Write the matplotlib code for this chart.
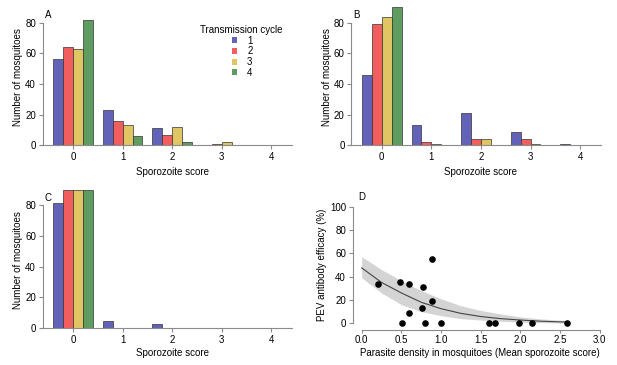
import matplotlib
matplotlib.use('Agg')
import matplotlib.pyplot as plt
from matplotlib.patches import Patch
import numpy as np

plt.rcParams['font.family'] = ['Liberation Sans', 'DejaVu Sans']
font_size = 7
axis_color = '#8a8a8a'

W, H = 617, 365

scores = [0, 1, 2, 3, 4]
cycles = ['1', '2', '3', '4']
cycle_colors = ['#6262b8', '#f25e5e', '#dfc662', '#5f9c5f']

# panel A: mosquitoes per sporozoite score, one list per transmission cycle
counts_a = [
    [56, 23, 11, 0, 0],
    [64, 16, 7, 1, 0],
    [63, 13, 12, 2, 0],
    [82, 6, 2, 0, 0],
]
# panel B
counts_b = [
    [46, 13, 21, 9, 1],
    [79, 2, 4, 4, 0],
    [84, 1, 4, 1, 0],
    [90, 0, 0, 0, 0],
]
# panel C
counts_c = [
    [81, 5, 3, 0, 0],
    [90, 0, 0, 0, 0],
    [90, 0, 0, 0, 0],
    [90, 0, 0, 0, 0],
]

# panel D: observed points
density = [0.20, 0.48, 0.51, 0.60, 0.60, 0.76, 0.77, 0.80, 0.88, 0.88,
           1.00, 1.60, 1.68, 1.98, 2.15, 2.58]
efficacy = [34, 35, 0, 34, 9, 13, 31, 0, 55, 19,
            0, 0, 0, 0, 0, 0]
# panel D: fitted curve and confidence band
fit_x = [0.0, 0.25, 0.5, 0.75, 1.0, 1.25, 1.5, 1.75, 2.0, 2.25, 2.6]
fit_y = [47.5, 35, 26, 18, 12.5, 8.5, 5.8, 4.0, 2.8, 1.8, 1.0]
fit_hi = [57, 46, 36.5, 28, 21, 15, 11, 8, 5.5, 3.8, 2.2]
fit_lo = [39, 26, 16, 10, 6.5, 4.0, 2.8, 1.8, 1.0, 0.5, 0.2]


def px_axes(fig, left, right, top, bottom):
    return fig.add_axes([left / W, 1 - bottom / H, (right - left) / W, (bottom - top) / H])


def style_axes(ax):
    for s in ['top', 'right']:
        ax.spines[s].set_visible(False)
    for s in ['left', 'bottom']:
        ax.spines[s].set_color(axis_color)
        ax.spines[s].set_linewidth(0.8)
    ax.tick_params(length=3, width=0.8, color=axis_color, labelsize=font_size, pad=2)


def bar_panel(ax, counts):
    x = np.arange(len(scores))
    for k, vals in enumerate(counts):
        ax.bar(x + (k - 1.5) * 0.2, vals, width=0.2, color=cycle_colors[k],
               edgecolor='#333333', linewidth=0.5, align='center')
    ax.set_xlim(-0.67, 4.42)
    ax.set_ylim(0, 92)
    style_axes(ax)
    ax.spines['left'].set_position(('data', -0.61))
    ax.spines['left'].set_bounds(0, 80)
    ax.set_yticks([0, 20, 40, 60, 80])
    ax.set_xticks(x)
    ax.set_xticklabels([str(s) for s in scores])


fig = plt.figure(figsize=(W / 100, H / 100), dpi=100)

ax_a = px_axes(fig, 40, 292, 4.3, 145.3)
bar_panel(ax_a, counts_a)
ax_b = px_axes(fig, 348.5, 601, 4.3, 145.3)
bar_panel(ax_b, counts_b)
ax_c = px_axes(fig, 40, 292, 186.5, 328.3)
bar_panel(ax_c, counts_c)

# legend in panel A
handles = [Patch(facecolor=c, edgecolor='none') for c in cycle_colors]
fig.text(241.5 / W, 1 - 30 / H, 'Transmission cycle', fontsize=font_size,
         ha='center', va='center')
ax_a.legend(handles, cycles, loc='upper left', bbox_to_anchor=(232 / W, 1 - 35.5 / H),
            bbox_transform=fig.transFigure, frameon=False, fontsize=font_size,
            handlelength=0.55, handleheight=0.55, handletextpad=1.0,
            labelspacing=0.08, borderpad=0, borderaxespad=0)

# panel D
ax_d = px_axes(fig, 353, 609.4, 202, 330)
ax_d.fill_between(fit_x, fit_lo, fit_hi, color='#d4d4d4', linewidth=0)
ax_d.plot(fit_x, fit_y, color='#444444', linewidth=0.8)
ax_d.scatter(density, efficacy, s=14, color='black', zorder=3)
ax_d.set_xlim(-0.11, 3.12)
ax_d.set_ylim(-5.75, 104)
style_axes(ax_d)
ax_d.tick_params(axis='x', length=2.5, pad=0.8)
ax_d.spines['left'].set_bounds(0, 100)
ax_d.spines['bottom'].set_bounds(0, 3)
ax_d.set_xticks([0, 0.5, 1.0, 1.5, 2.0, 2.5, 3.0])
ax_d.set_xticklabels(['0.0', '0.5', '1.0', '1.5', '2.0', '2.5', '3.0'])
ax_d.set_yticks([0, 20, 40, 60, 80, 100])

# axis labels
for x, y in [(172, 172), (481, 172), (172, 353.3)]:
    fig.text(x / W, 1 - y / H, 'Sporozoite score', fontsize=font_size, ha='center', va='center')
for x, y in [(18, 77), (326.7, 77), (18.3, 260)]:
    fig.text(x / W, 1 - y / H, 'Number of mosquitoes', fontsize=font_size,
             ha='center', va='center', rotation=90)
fig.text(480 / W, 1 - 352.5 / H, 'Parasite density in mosquitoes (Mean sporozoite score)',
         fontsize=font_size, ha='center', va='center')
fig.text(321.7 / W, 1 - 265 / H, 'PEV antibody efficacy (%)', fontsize=font_size,
         ha='center', va='center', rotation=90)

# panel letters
for letter, x, y in [('A', 48, 15), ('B', 356.7, 15), ('C', 48.3, 198.3), ('D', 361.7, 196.7)]:
    fig.text(x / W, 1 - y / H, letter, fontsize=font_size, ha='center', va='center')

fig.savefig('out.png', dpi=100)
